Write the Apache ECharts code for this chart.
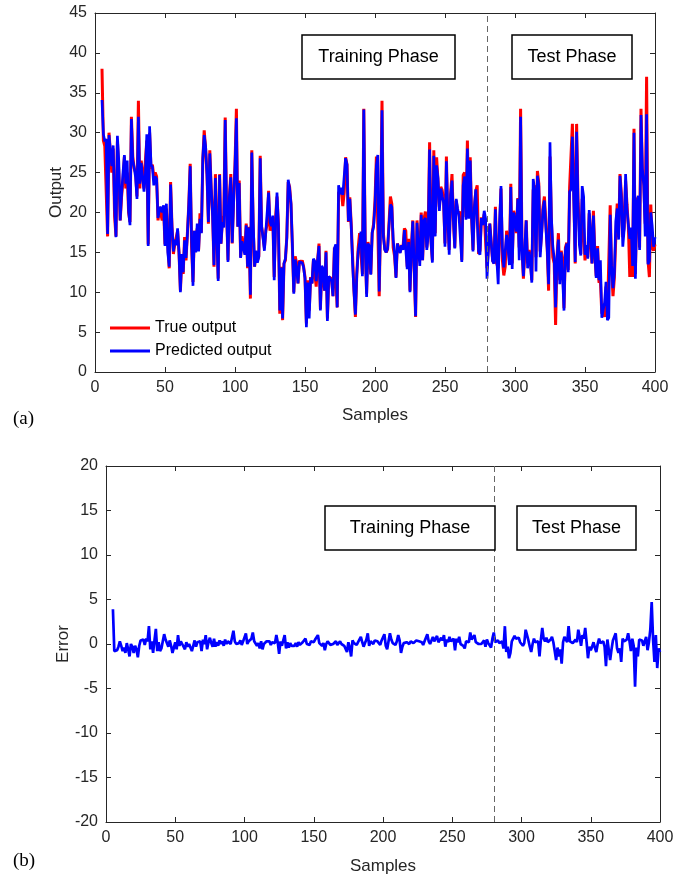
<!DOCTYPE html>
<html>
<head>
<meta charset="utf-8">
<script src="https://cdn.jsdelivr.net/npm/echarts@6/dist/echarts.min.js"></script>
<style>
html,body{margin:0;padding:0;background:#fff;}
#chart{width:686px;height:880px;}
</style>
</head>
<body>
<div id="chart"></div>
<script>
const firstSample = 5;
const phaseSplit = 280;
const seriesNames = ['True output', 'Predicted output'];

const trueOutput = [
38,29,28.3,28.5,17,30,27.5,25,28,19.5,
17,29,25,19,22,24,27,23,25,20,
18.8,32,27,25.5,25,22,34,23,26.5,25,
23,26.5,29,16,30,25.5,26,24.5,25,24.5,
19,20.7,20.5,19,20.5,16,20.5,16,13,23.8,
18.2,14.8,16,16.1,17.7,15,10.2,14,12.3,16.9,
14,17.4,21,26.1,15.7,11.3,17.7,16,18,15.3,
19.9,17.5,26.5,30.3,28,24.8,18.6,27.8,23,19.9,
13.2,24.8,17.4,11.7,24.8,16.1,19,19.6,31.9,20.2,
14,22,24.8,16.1,21.5,26,33,18.2,24,14.4,
17,16.9,15,18.6,13,18.2,9.2,27.8,18.2,13.2,
15,14,14.5,27.1,18.2,17,15.6,17.7,18.6,22.7,
17.7,18.6,19.4,11.9,19.4,22,18.6,7.3,13.2,6.5,
13.6,14,16.9,23.8,23.2,21,15.6,10,14.5,13.6,
11.1,14,13.6,14,13.2,11.9,6.1,11.5,7.7,11.9,
11.1,14,14,10.7,14,16.1,7.9,13.2,13,10.2,
15.2,6.7,11.9,11.9,11.7,9.5,15.6,15.8,8.1,22.5,
22.5,22.7,20.8,22.5,26.9,26,18.8,21.9,18.6,14.4,
10.2,6.9,12.3,15.6,17.4,17.4,12.3,33,16.1,9.8,
16.3,16.1,12.3,17.4,18.6,21.5,27,27,9.5,19.4,
34,17.4,15.4,15,15.4,18.6,22,21.1,15.6,14.5,
11.9,16.1,16.3,15,15.9,15.6,18,17.7,13.2,16.7,
10.2,15.6,19,19,6.9,19,15.6,14.4,20,14,
19.2,20.1,15.6,17.7,28.8,16.5,14,27.8,17.4,26.9,
24,20.7,23.2,22.8,21.5,16.1,27,19,15.3,22.3,
24.8,19,15.6,21.5,20,19.8,20,14,24.7,25,
19.4,29,19.4,26.9,19.4,15.3,20.7,22.7,23.4,14.8,
15.2,19.4,18.6,19.8,19.8,13,15.6,18.6,18.8,14,
13.6,20.7,13.6,13,18,23,14,12.1,13.2,17.7,
16.5,14,23.6,13.6,20.2,19.4,17.4,21.8,15.6,33,
15.6,11.7,14.8,19,13.6,15.3,14,11.5,22.8,23.4,
14.4,25.2,23.6,15.1,17.4,20.7,22,19,15.6,10.2,
27,19,14.4,13.6,5.9,14.4,17.4,11.5,15.2,14,
8,15.6,16.2,12.8,23.1,23.1,31.1,22.3,13.6,31.1,
21.7,17.7,14.8,21.7,21.7,14,15.6,14.4,19.9,16.5,
13.6,20.2,15,12,15.8,11.2,11.5,7.3,8.1,6.9,
10.7,6.9,7,20.9,12.8,9.5,11.9,16.9,21.1,16.9,
24.8,22.3,16.9,18.2,24,21,18.2,11.9,17.7,11.9,
30.5,12.3,21.5,21.9,15.6,33,24.8,23.6,18.6,37,
14,11.9,21,15.6,15.2,16
];

const predictedOutput = [
34.1,29.8,28.9,29.2,17.3,29.7,27.7,25.8,28.4,20.5,
16.9,29.6,26.4,19,22.3,25,27.2,23.6,26.5,20.2,
18.4,31.7,26.5,25.6,24.4,21.7,32,23.6,26.2,26,
22.6,24.8,29.8,15.8,30.8,26,25.7,23.4,24.5,24.2,
19.3,20.3,20.7,20,20.9,15.8,21.1,15,13.2,23.5,
18.2,15.1,16.6,15.9,18,15,10,14.8,12.5,16.5,
14.3,17.2,21,25.8,16.5,10.8,17.7,15,18.6,15.1,
19.2,17.4,26.8,29.7,28.3,24.6,18.8,27.4,23,19.6,
13.4,24.3,17.4,11.4,24.7,16.1,18.8,18.1,31.6,20.2,
13.8,21.9,24.4,16.2,21.2,25.8,31.8,18.2,23.7,14.3,
16.4,15.6,14.7,18.4,13.2,18.1,9.7,27.5,18.8,13.2,
15.2,13.7,14.4,26.8,18.3,16.8,15.2,17.6,17.6,22.5,
18.8,18.3,19.6,11.5,18.4,22.5,18.4,7.7,13.1,6.7,
13.6,14.2,16.8,24.1,23,21.1,15.9,9.8,14.1,13,
11.1,13.8,13.7,13.7,13.1,11.7,5.6,11.2,6.7,11.8,
11.1,14.2,13.9,11.4,14,15.8,7.7,13.3,12.9,10.2,
15,6.4,12,11.8,11.4,9.5,15.5,16,8.1,23.4,
22.3,23.1,22.2,22.1,26.8,26,18.9,21.7,18.3,13.6,
10,7.2,12.2,15.1,16.2,17.6,12,32.9,16.1,9.4,
16.1,15.8,12.2,17.5,18.2,20.9,25.9,27.2,10.1,19.1,
32.8,16.9,15.3,15,15.5,18.3,21,20.7,16.6,14.8,
11.8,16.1,16.1,14.9,15.9,15.3,17.8,17.6,12.9,16.3,
10,15.3,18.9,18.8,7,18.7,15.4,13.3,19.7,14,
19,19.3,15.3,17.2,27.9,16.3,13.7,27.1,17,25.9,
24.3,20.2,23,22,21.2,15.7,26.4,19.7,14.7,22.1,
24,19,15.5,21.7,20.5,19.5,19.6,13.8,23.4,24.5,
19.1,28,19.2,26.5,19.4,15.1,20.7,22.9,23,15.1,
14.7,19.3,18.4,20.2,19.2,11.7,15.4,18.6,18.4,13.9,
13.6,20.4,14.1,11,18.9,23.3,15.6,13.1,12.9,17.2,
15.6,13.4,23.2,12.9,20,19.1,17.6,21.7,14,32,
15.2,12,15.7,19,13,15.1,13.6,11.2,24.2,22.9,
12.6,24.6,23.3,14.4,17.2,20.3,21.5,18.2,15.4,11,
28.8,19.4,15.8,14.2,8.1,14.2,16.6,11,15,12,
7.7,15.2,16.1,12.5,22.6,22.9,29.5,21.5,13.8,30.1,
21.1,15.9,14.6,23.3,22,14.7,15.9,14.2,20.3,17.4,
13.6,19.6,14.9,11.8,15.5,11.5,14,6.8,7.8,8.7,
11.3,6.5,6.8,19.7,13.3,10.5,12.4,18.9,20.5,16.6,
24.6,21.8,15.7,17.9,24.8,20.4,18.4,16.7,18.1,13.3,
30,11.7,21.1,22.1,15.3,32.2,25.5,23.4,17,32.3,
13.5,13.9,20,18.3,15.7,16.9
];

const errorValues = [
3.9,-0.8,-0.6,-0.7,-0.3,0.3,-0.2,-0.8,-0.4,-1.0,
0.1,-0.6,-1.4,0.0,-0.3,-1.0,-0.2,-0.6,-1.5,-0.2,
0.4,0.3,0.5,-0.1,0.6,0.3,2.0,-0.6,0.3,-1.0,
0.4,1.7,-0.8,0.2,-0.8,-0.5,0.3,1.1,0.5,0.3,
-0.3,0.4,-0.2,-1.0,-0.4,0.2,-0.6,1.0,-0.2,0.3,
0.0,-0.3,-0.6,0.2,-0.3,0.0,0.2,-0.8,-0.2,0.4,
-0.3,0.2,0.0,0.3,-0.8,0.5,0.0,1.0,-0.6,0.2,
0.7,0.1,-0.3,0.6,-0.3,0.2,-0.2,0.4,0.0,0.3,
-0.2,0.5,0.0,0.3,0.1,0.0,0.2,1.5,0.3,0.0,
0.2,0.1,0.4,-0.1,0.3,0.2,1.2,0.0,0.3,0.1,
0.6,1.3,0.3,0.2,-0.2,0.1,-0.5,0.3,-0.6,0.0,
-0.2,0.3,0.1,0.3,-0.1,0.2,0.4,0.1,1.0,0.2,
-1.1,0.3,-0.2,0.4,1.0,-0.5,0.2,-0.4,0.1,-0.2,
0.0,-0.2,0.1,-0.3,0.2,-0.1,-0.3,0.2,0.4,0.6,
0.0,0.2,-0.1,0.3,0.1,0.2,0.5,0.3,1.0,0.1,
0.0,-0.2,0.1,-0.7,0.0,0.3,0.2,-0.1,0.1,0.0,
0.2,0.3,-0.1,0.1,0.3,0.0,0.1,-0.2,0.0,-0.9,
0.2,-0.4,-1.4,0.4,0.1,0.0,-0.1,0.2,0.3,0.8,
0.2,-0.3,0.1,0.5,1.2,-0.2,0.3,0.1,0.0,0.4,
0.2,0.3,0.1,-0.1,0.4,0.6,1.1,-0.2,-0.6,0.3,
1.2,0.5,0.1,0.0,-0.1,0.3,1.0,0.4,-1.0,-0.3,
0.1,0.0,0.2,0.1,0.0,0.3,0.2,0.1,0.3,0.4,
0.2,0.3,0.1,0.2,-0.1,0.3,0.2,1.1,0.3,0.0,
0.2,0.8,0.3,0.5,0.9,0.2,0.3,0.7,0.4,1.0,
-0.3,0.5,0.2,0.8,0.3,0.4,0.6,-0.7,0.6,0.2,
0.8,0.0,0.1,-0.2,-0.5,0.3,0.4,0.2,1.3,0.5,
0.3,1.0,0.2,0.4,0.0,0.2,0.0,-0.2,0.4,-0.3,
0.5,0.1,0.2,-0.4,0.6,1.3,0.2,0.0,0.4,0.1,
0.0,0.3,-0.5,2.0,-0.9,-0.3,-1.6,-1.0,0.3,0.5,
0.9,0.6,0.4,0.7,0.2,0.3,-0.2,0.1,1.6,1.0,
0.4,-0.3,-0.9,0.0,0.6,0.2,0.4,0.3,-1.4,0.5,
1.8,0.6,0.3,0.7,0.2,0.4,0.5,0.8,0.2,-0.8,
-1.8,-0.4,-1.4,-0.6,-2.2,0.2,0.8,0.5,0.2,2.0,
0.3,0.4,0.1,0.3,0.5,0.2,1.6,0.8,-0.2,1.0,
0.6,1.8,0.2,-1.6,-0.3,-0.7,-0.3,0.2,-0.4,-0.9,
0.0,0.6,0.1,0.2,0.3,-0.3,-2.5,0.5,0.3,-1.8,
-0.6,0.4,0.2,1.2,-0.5,-1.0,-0.5,-2.0,0.6,0.3,
0.2,0.5,1.2,0.3,-0.8,0.6,-0.2,-4.8,-0.4,-1.4,
0.5,0.6,0.4,-0.2,0.3,0.8,-0.7,0.2,1.6,4.7,
0.5,-2.0,1.0,-2.7,-0.5,-0.9
];

const xRange = {min: 0, max: 400, interval: 50};
const outputRange = {min: 0, max: 45, interval: 5};
const errorRange = {min: -20, max: 20, interval: 5};

const FONT = '"Liberation Sans", Arial, sans-serif';
const AX = '#262626';

function toPairs(arr) { return arr.map((v, i) => [firstSample + i, v]); }

function mainX(grid, gap) {
  return {
    type: 'value', gridIndex: grid, position: 'bottom',
    min: xRange.min, max: xRange.max, interval: xRange.interval,
    name: 'Samples', nameLocation: 'middle', nameGap: gap, nameMoveOverlap: false,
    nameTextStyle: {fontSize: 17, color: AX, fontFamily: FONT},
    axisLine: {show: true, onZero: false, lineStyle: {color: AX, width: 1}},
    axisTick: {show: true, inside: true, length: 5, lineStyle: {color: AX}},
    axisLabel: {fontSize: 16, color: AX, fontFamily: FONT, margin: 8},
    splitLine: {show: false}
  };
}
function boxX(grid) {
  return {
    type: 'value', gridIndex: grid, position: 'top',
    min: xRange.min, max: xRange.max, interval: xRange.interval,
    axisLine: {show: true, onZero: false, lineStyle: {color: AX, width: 1}},
    axisTick: {show: true, inside: true, length: 5, lineStyle: {color: AX}},
    axisLabel: {show: false}, splitLine: {show: false}
  };
}
function mainY(grid, range, name, gap) {
  return {
    type: 'value', gridIndex: grid, position: 'left',
    min: range.min, max: range.max, interval: range.interval,
    name: name, nameLocation: 'middle', nameGap: gap, nameRotate: 90, nameMoveOverlap: false,
    nameTextStyle: {fontSize: 17, color: AX, fontFamily: FONT},
    axisLine: {show: true, onZero: false, lineStyle: {color: AX, width: 1}},
    axisTick: {show: true, inside: true, length: 5, lineStyle: {color: AX}},
    axisLabel: {fontSize: 16, color: AX, fontFamily: FONT, margin: 8},
    splitLine: {show: false}
  };
}
function boxY(grid, range) {
  return {
    type: 'value', gridIndex: grid, position: 'right',
    min: range.min, max: range.max, interval: range.interval,
    axisLine: {show: true, onZero: false, lineStyle: {color: AX, width: 1}},
    axisTick: {show: true, inside: true, length: 5, lineStyle: {color: AX}},
    axisLabel: {show: false}, splitLine: {show: false}
  };
}

const phaseLine = {
  silent: true, symbol: ['none', 'none'],
  label: {show: false},
  lineStyle: {color: '#666', type: [6, 4], width: 1},
  data: [{xAxis: phaseSplit}]
};

function box(x, y, w, h, label) {
  return [
    {type: 'rect', shape: {x: x, y: y, width: w, height: h}, z: 100,
     style: {fill: '#fff', stroke: '#000', lineWidth: 1.5}},
    {type: 'text', x: x + w / 2, y: y + h / 2, z: 101,
     style: {text: label, textAlign: 'center', textVerticalAlign: 'middle',
             font: '18px ' + FONT, fill: '#000'}}
  ];
}

const chart = echarts.init(document.getElementById('chart'), null, {renderer: 'canvas'});
chart.setOption({
  animation: false,
  backgroundColor: '#fff',
  grid: [
    {left: 95, top: 13, width: 560, height: 359},
    {left: 106, top: 466, width: 554, height: 356}
  ],
  xAxis: [mainX(0, 35), boxX(0), mainX(1, 36), boxX(1)],
  yAxis: [mainY(0, outputRange, 'Output', 30), boxY(0, outputRange),
          mainY(1, errorRange, 'Error', 34), boxY(1, errorRange)],
  legend: {
    data: seriesNames, orient: 'vertical', left: 105, top: 315,
    itemWidth: 40, itemHeight: 3, itemGap: 7, icon: 'rect',
    textStyle: {fontSize: 16, color: '#000', fontFamily: FONT}
  },
  series: [
    {name: seriesNames[0], type: 'line', xAxisIndex: 0, yAxisIndex: 0,
     data: toPairs(trueOutput), showSymbol: false, symbol: 'none',
     color: '#ff0000', lineStyle: {color: '#ff0000', width: 3}, z: 2},
    {name: seriesNames[1], type: 'line', xAxisIndex: 0, yAxisIndex: 0,
     data: toPairs(predictedOutput), showSymbol: false, symbol: 'none',
     color: '#0000ff', lineStyle: {color: '#0000ff', width: 2.7}, z: 3,
     markLine: phaseLine},
    {name: 'Error', type: 'line', xAxisIndex: 2, yAxisIndex: 2,
     data: toPairs(errorValues), showSymbol: false, symbol: 'none',
     color: '#0000ff', lineStyle: {color: '#0000ff', width: 2.7}, z: 3,
     markLine: phaseLine}
  ],
  graphic: [].concat(
    box(302, 35, 153, 44, 'Training Phase'),
    box(512, 35, 120, 44, 'Test Phase'),
    box(325, 506, 170, 44, 'Training Phase'),
    box(517, 506, 119, 44, 'Test Phase'),
    [
      {type: 'text', x: 13, y: 410, style: {text: '(a)', font: '19px "Liberation Serif", "Times New Roman", serif', fill: '#000'}},
      {type: 'text', x: 13, y: 852, style: {text: '(b)', font: '19px "Liberation Serif", "Times New Roman", serif', fill: '#000'}}
    ]
  )
});
</script>
</body>
</html>
